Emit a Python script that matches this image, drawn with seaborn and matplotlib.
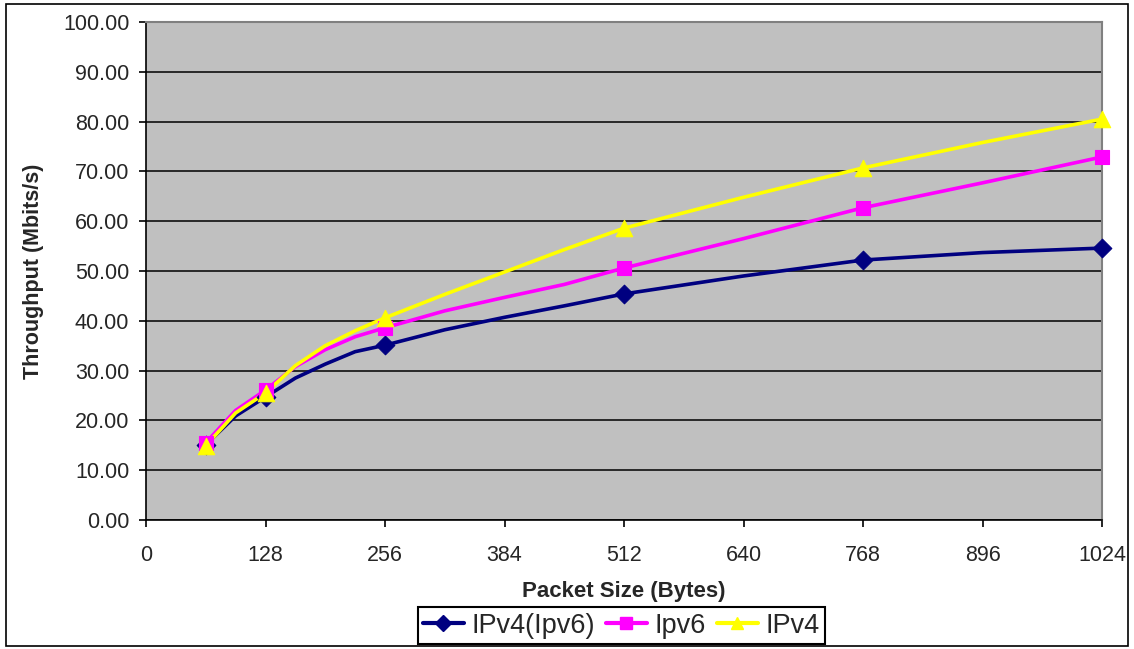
import matplotlib
matplotlib.use("Agg")
import matplotlib.pyplot as plt
import seaborn as sns
import pandas as pd
from matplotlib.lines import Line2D
from matplotlib.patches import Rectangle

# ---- data ----
packet_sizes = [64, 96, 128, 160, 192, 224, 256, 320, 384, 448, 512, 640, 768, 896, 1024]
marker_sizes = [64, 128, 256, 512, 768, 1024]
ipv4_in_ipv6 = [15.1, 20.9, 24.7, 28.5, 31.3, 33.8, 35.1, 38.2, 40.7, 43.0, 45.4, 49.0, 52.2, 53.7, 54.6]
ipv6 = [15.5, 22.0, 26.1, 30.8, 34.2, 36.8, 38.6, 42.0, 44.7, 47.3, 50.6, 56.5, 62.7, 67.7, 72.9]
ipv4 = [14.9, 21.5, 25.5, 31.0, 35.0, 38.0, 40.6, 45.3, 49.8, 54.3, 58.6, 64.8, 70.7, 75.8, 80.5]
series_names = ["IPv4(Ipv6)", "Ipv6", "IPv4"]
x_ticks = [0, 128, 256, 384, 512, 640, 768, 896, 1024]
y_ticks = [0, 10, 20, 30, 40, 50, 60, 70, 80, 90, 100]

colors = {"IPv4(Ipv6)": "#000080", "Ipv6": "#FF00FF", "IPv4": "#FFFF00"}
markers = {"IPv4(Ipv6)": "D", "Ipv6": "s", "IPv4": "^"}
msizes = {"IPv4(Ipv6)": 90, "Ipv6": 95, "IPv4": 140}

frames = []
for name, vals in zip(series_names, [ipv4_in_ipv6, ipv6, ipv4]):
    frames.append(pd.DataFrame({"size": packet_sizes, "thr": vals, "series": name}))
df = pd.concat(frames, ignore_index=True)
dfm = df[df["size"].isin(marker_sizes)]

sns.set_theme(style="white")
plt.rcParams["font.family"] = ["Liberation Sans", "DejaVu Sans"]

fig = plt.figure(figsize=(11.34, 6.49), dpi=100)
ax = fig.add_axes([146 / 1134, 1 - 520 / 649, (1102 - 146) / 1134, (520 - 22) / 649])
ax.set_facecolor("#C0C0C0")

for name in series_names:
    sub = df[df["series"] == name]
    sns.lineplot(data=sub, x="size", y="thr", ax=ax, color=colors[name],
                 linewidth=2.6, legend=False, zorder=3 + series_names.index(name))
    subm = dfm[dfm["series"] == name]
    sns.scatterplot(data=subm, x="size", y="thr", ax=ax, color=colors[name],
                    marker=markers[name], s=msizes[name], edgecolor=colors[name],
                    linewidth=0.8, legend=False, zorder=6 + series_names.index(name),
                    clip_on=False)

ax.set_xlim(0, 1024)
ax.set_ylim(0, 100)
ax.set_xticks(x_ticks)
ax.set_xticklabels([str(v) for v in x_ticks])
ax.set_yticks(y_ticks)
ax.set_yticklabels([f"{v:.2f}" for v in y_ticks])
ax.yaxis.grid(True, color="black", linewidth=1.1)
ax.xaxis.grid(False)
ax.set_axisbelow(True)

for side in ["top", "right"]:
    ax.spines[side].set_color("#808080")
    ax.spines[side].set_linewidth(1.5)
for side in ["left", "bottom"]:
    ax.spines[side].set_color("black")
    ax.spines[side].set_linewidth(1.2)

ax.tick_params(axis="y", direction="out", length=5, width=1.2, color="black",
               labelsize=15.5, pad=7, left=True)
ax.tick_params(axis="x", direction="out", length=5, width=1.2, color="black",
               labelsize=15.5, pad=13, bottom=True)

ax.set_xlabel("Packet Size (Bytes)", fontsize=16, fontweight="bold")
ax.xaxis.set_label_coords(0.5, -(591 - 520) / 498)
ax.xaxis.label.set_va("center")
ax.set_ylabel("Throughput (Mbits/s)", fontsize=15.5, fontweight="bold")
ax.yaxis.set_label_coords((44 - 146) / 956, 0.5)

handles = [Line2D([0], [0], color=colors[n], linewidth=3, marker=markers[n],
                  markersize=8 if n != "IPv4" else 9,
                  markeredgecolor=colors[n]) for n in series_names]
leg = fig.legend(handles, series_names, loc="lower center",
                 bbox_to_anchor=(621.5 / 1134, 5 / 649), ncol=3, frameon=True,
                 fancybox=False, edgecolor="black", fontsize=19.5,
                 handlelength=1.5, handletextpad=0.3, columnspacing=0.4,
                 borderpad=0.2, borderaxespad=0, framealpha=1)
leg.get_frame().set_linewidth(1.5)

fig.patches.append(Rectangle((6 / 1134, 3 / 649), 1122 / 1134, 642 / 649,
                             transform=fig.transFigure, fill=False,
                             edgecolor="black", linewidth=1.2))

fig.savefig("out.png", dpi=100, facecolor="white")
